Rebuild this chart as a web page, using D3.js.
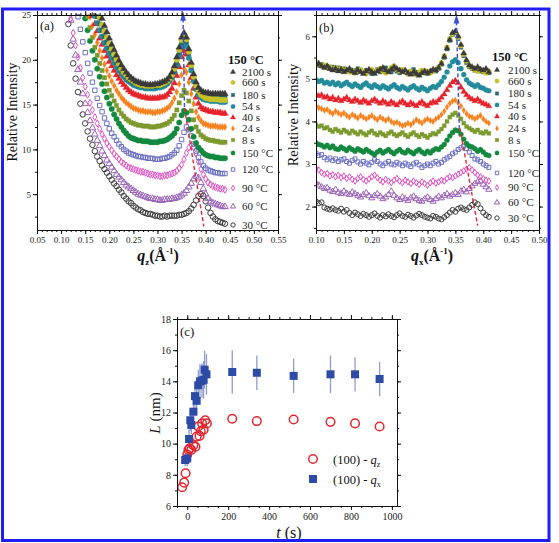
<!DOCTYPE html>
<html>
<head>
  <meta charset="utf-8">
  <style>
    body { margin: 0; background: #fff; }
    svg { display: block; font-family: "Liberation Serif", "Times New Roman", serif; }
  </style>
</head>
<body>
<div id="fig"></div>
<script src="https://d3js.org/d3.v7.min.js"></script>
<script>
// ---------- data: legend order, top to bottom ----------
var seriesLabels = ['2100 s', '660 s', '180 s', '54 s', '40 s', '24 s', '8 s', '150 °C', '120 °C', '90 °C', '60 °C', '30 °C'];

// panel (a): q_z grid and relative intensity
var qA = [0.110,0.115,0.120,0.125,0.130,0.135,0.140,0.145,0.150,0.155,
  0.160,0.165,0.170,0.175,0.180,0.185,0.190,0.195,0.200,0.205,
  0.210,0.215,0.220,0.225,0.230,0.235,0.240,0.245,0.250,0.255,
  0.260,0.265,0.270,0.275,0.280,0.285,0.290,0.295,0.300,0.305,
  0.310,0.315,0.320,0.325,0.330,0.335,0.340,0.345,0.350,0.355,
  0.360,0.365,0.370,0.375,0.380,0.385,0.390,0.395,0.400,0.405,
  0.410,0.415,0.420,0.425,0.430,0.435,0.440];

var a2100 = [null,null,null,null,null,null,null,null,null,null,
  null,null,null,null,null,24.6,23.8,23.1,22.4,21.7,
  21.1,20.5,19.9,19.4,19.0,18.6,18.3,18.0,17.8,17.6,
  17.5,17.4,17.3,17.3,17.2,17.2,17.2,17.3,17.3,17.4,
  17.5,17.6,17.8,18.1,18.6,19.3,20.3,21.4,22.5,23.0,
  22.5,21.2,19.7,18.4,17.5,16.9,16.6,16.4,16.3,16.3,
  16.2,16.2,16.2,16.2,16.2,16.2,16.2];
var a660 = [null,null,null,null,null,null,null,null,null,null,
  null,null,null,null,24.7,23.9,23.2,22.5,21.8,21.2,
  20.6,20.0,19.5,19.0,18.6,18.3,18.0,17.8,17.6,17.4,
  17.3,17.2,17.2,17.1,17.1,17.1,17.1,17.2,17.2,17.2,
  17.3,17.4,17.6,17.9,18.3,19.0,20.0,21.1,22.2,22.8,
  22.3,20.9,19.4,18.1,17.1,16.5,16.1,15.9,15.7,15.7,
  15.6,15.6,15.6,15.6,15.5,15.5,15.5];
var a180 = [null,null,null,null,null,null,null,null,null,null,
  null,null,null,24.8,24.0,23.3,22.6,22.0,21.4,20.8,
  20.2,19.7,19.2,18.8,18.4,18.1,17.8,17.6,17.4,17.3,
  17.2,17.1,17.1,17.0,17.0,17.0,17.0,17.0,17.1,17.1,
  17.2,17.3,17.5,17.8,18.2,18.8,19.7,20.8,21.9,22.5,
  22.0,20.7,19.2,18.0,17.0,16.4,16.1,15.9,15.8,15.8,
  15.8,15.8,15.7,15.8,15.7,15.7,15.8];
var a54 = [null,null,null,null,null,null,null,null,null,null,
  null,null,24.9,24.1,23.3,22.6,21.9,21.3,20.7,20.2,
  19.7,19.2,18.8,18.4,18.1,17.8,17.6,17.4,17.2,17.1,
  17.0,16.9,16.9,16.8,16.8,16.8,16.8,16.8,16.9,16.9,
  17.0,17.1,17.3,17.6,18.0,18.6,19.4,20.4,21.4,22.0,
  21.5,20.2,18.8,17.6,16.7,16.1,15.8,15.6,15.5,15.5,
  15.4,15.4,15.4,15.4,15.3,15.3,15.3];
var a40 = [null,null,null,null,null,null,null,null,null,null,
  null,24.9,24.0,23.2,22.4,21.7,21.0,20.4,19.8,19.3,
  18.8,18.3,17.9,17.5,17.2,16.9,16.6,16.4,16.2,16.1,
  16.0,15.9,15.8,15.8,15.7,15.7,15.7,15.7,15.7,15.8,
  15.8,15.9,16.1,16.4,16.8,17.4,18.2,19.2,20.3,21.0,
  20.6,19.4,18.0,16.8,15.8,15.1,14.7,14.5,14.4,14.3,
  14.2,14.2,14.1,14.1,14.1,14.0,14.0];
var a24 = [null,null,null,null,null,null,null,null,null,null,
  24.8,23.8,22.8,21.9,21.0,20.2,19.5,18.8,18.2,17.6,
  17.1,16.6,16.2,15.8,15.5,15.2,15.0,14.8,14.6,14.5,
  14.4,14.3,14.3,14.2,14.2,14.2,14.1,14.1,14.2,14.2,
  14.3,14.4,14.6,14.8,15.2,15.7,16.4,17.3,18.3,19.0,
  18.6,17.5,16.2,15.1,14.2,13.6,13.2,12.9,12.8,12.7,
  12.6,12.6,12.6,12.5,12.5,12.5,12.5];
var a8 = [null,null,null,null,null,null,null,null,null,24.8,
  23.6,22.5,21.4,20.5,19.6,18.8,18.0,17.3,16.6,16.0,
  15.4,14.9,14.4,14.0,13.7,13.4,13.2,13.0,12.9,12.8,
  12.7,12.7,12.6,12.6,12.6,12.5,12.5,12.5,12.6,12.6,
  12.7,12.8,12.9,13.1,13.4,13.8,14.4,15.2,16.0,16.6,
  16.3,15.4,14.3,13.3,12.5,12.0,11.6,11.4,11.2,11.1,
  11.0,11.0,10.9,10.9,10.8,10.8,10.8];
var a150 = [null,null,null,null,null,null,null,null,24.6,23.3,
  22.1,21.0,20.0,19.0,18.1,17.3,16.5,15.8,15.1,14.5,
  13.9,13.4,12.9,12.5,12.1,11.8,11.5,11.3,11.2,11.1,
  11.0,11.0,10.9,10.9,10.9,10.8,10.8,10.8,10.8,10.9,
  10.9,11.0,11.1,11.3,11.5,11.8,12.3,13.0,13.8,14.3,
  14.1,13.3,12.3,11.4,10.7,10.2,9.9,9.6,9.4,9.3,
  9.2,9.2,9.1,9.1,9.0,9.0,9.0];
var a120 = [null,null,null,null,null,24.8,23.4,22.0,20.8,19.6,
  18.5,17.5,16.6,15.7,14.9,14.2,13.5,12.9,12.3,11.8,
  11.4,11.0,10.6,10.3,10.0,9.8,9.6,9.5,9.4,9.3,
  9.2,9.2,9.1,9.1,9.0,9.0,9.0,8.9,8.9,8.9,
  9.0,9.0,9.1,9.2,9.4,9.6,9.9,10.4,11.1,11.9,
  12.5,12.2,11.5,10.6,9.8,9.1,8.6,8.2,7.9,7.7,
  7.6,7.5,7.4,7.4,7.3,7.3,7.3];
var a90 = [null,null,24.6,23.0,21.6,20.3,19.1,18.0,17.0,16.1,
  15.2,14.4,13.6,12.9,12.3,11.7,11.2,10.7,10.3,9.9,
  9.5,9.2,8.9,8.6,8.4,8.2,8.0,7.9,7.8,7.7,
  7.6,7.5,7.5,7.4,7.3,7.2,7.2,7.1,7.1,7.0,
  7.0,7.1,7.1,7.2,7.3,7.4,7.6,7.9,8.3,8.9,
  9.6,10.2,10.5,10.2,9.5,8.6,7.8,7.2,6.7,6.3,
  6.1,5.9,5.8,5.7,5.6,5.6,5.5];
var a60 = [null,null,24.4,22.3,20.5,18.9,17.5,16.2,15.1,14.1,
  13.2,12.4,11.7,11.0,10.4,9.8,9.3,8.8,8.4,8.0,
  7.6,7.2,6.9,6.6,6.3,6.0,5.8,5.6,5.4,5.2,
  5.0,4.9,4.8,4.7,4.6,4.5,4.5,4.4,4.4,4.3,
  4.3,4.4,4.4,4.4,4.5,4.5,4.6,4.7,4.9,5.1,
  5.4,5.8,6.2,6.7,7.0,6.8,6.3,5.6,5.0,4.5,
  4.2,4.0,3.9,3.8,3.7,3.6,3.6];
var a30 = [null,24.0,21.6,19.6,17.9,16.4,15.1,13.9,12.9,12.0,
  11.2,10.5,9.8,9.2,8.7,8.2,7.8,7.4,7.0,6.6,
  6.2,5.9,5.5,5.2,4.8,4.5,4.2,4.0,3.7,3.5,
  3.3,3.2,3.0,2.9,2.8,2.8,2.7,2.6,2.6,2.5,
  2.5,2.6,2.5,2.6,2.6,2.6,2.6,2.7,2.7,2.8,
  2.9,3.1,3.4,3.8,4.3,4.8,5.0,4.8,4.2,3.5,
  2.9,2.5,2.2,2.0,1.9,1.8,1.7];

// panel (b): q_x grid and relative intensity
var qB = [0.100,0.105,0.110,0.115,0.120,0.125,0.130,0.135,0.140,0.145,
  0.150,0.155,0.160,0.165,0.170,0.175,0.180,0.185,0.190,0.195,
  0.200,0.205,0.210,0.215,0.220,0.225,0.230,0.235,0.240,0.245,
  0.250,0.255,0.260,0.265,0.270,0.275,0.280,0.285,0.290,0.295,
  0.300,0.305,0.310,0.315,0.320,0.325,0.330,0.335,0.340,0.345,
  0.350,0.355,0.360,0.365,0.370,0.375,0.380,0.385,0.390,0.395,
  0.400,0.405,0.410];

var b2100 = [5.34,5.36,5.30,5.26,5.30,5.24,5.20,5.24,5.18,5.22,
  5.16,5.20,5.24,5.18,5.14,5.20,5.16,5.12,5.18,5.22,
  5.16,5.12,5.18,5.22,5.26,5.20,5.16,5.22,5.28,5.24,
  5.20,5.16,5.20,5.14,5.10,5.16,5.12,5.08,5.14,5.18,
  5.14,5.18,5.22,5.20,5.26,5.36,5.52,5.72,5.92,6.08,
  6.12,6.00,5.80,5.60,5.44,5.32,5.28,5.24,5.28,5.22,
  5.20,5.24,5.16];
var b660 = [5.40,5.34,5.30,5.32,5.26,5.28,5.22,5.26,5.20,5.24,
  5.18,5.22,5.16,5.20,5.14,5.18,5.22,5.16,5.12,5.18,
  5.22,5.16,5.20,5.24,5.18,5.14,5.20,5.26,5.30,5.22,
  5.18,5.22,5.16,5.12,5.18,5.14,5.10,5.16,5.20,5.14,
  5.18,5.14,5.18,5.22,5.28,5.38,5.54,5.74,5.94,6.06,
  6.10,5.98,5.78,5.58,5.42,5.30,5.26,5.22,5.18,5.22,
  5.18,5.14,5.18];
var b180 = [5.36,5.32,5.34,5.28,5.30,5.24,5.28,5.22,5.26,5.20,
  5.24,5.18,5.22,5.16,5.20,5.24,5.18,5.14,5.20,5.16,
  5.12,5.18,5.22,5.16,5.20,5.26,5.20,5.16,5.22,5.18,
  5.14,5.20,5.16,5.12,5.18,5.22,5.16,5.10,5.14,5.18,
  5.12,5.16,5.20,5.18,5.24,5.34,5.50,5.70,5.90,6.04,
  6.08,5.94,5.74,5.54,5.38,5.28,5.24,5.20,5.24,5.18,
  5.16,5.20,5.14];
var b54 = [4.98,4.94,4.96,4.90,4.92,4.88,4.92,4.86,4.90,4.84,
  4.88,4.92,4.86,4.82,4.88,4.84,4.80,4.86,4.90,4.84,
  4.80,4.86,4.82,4.78,4.84,4.80,4.76,4.82,4.86,4.80,
  4.76,4.82,4.78,4.74,4.80,4.84,4.78,4.74,4.80,4.76,
  4.72,4.78,4.82,4.80,4.86,4.94,5.04,5.16,5.30,5.40,
  5.45,5.38,5.24,5.10,4.98,4.90,4.86,4.82,4.86,4.80,
  4.78,4.74,4.72];
var b40 = [4.64,4.60,4.62,4.56,4.58,4.52,4.56,4.50,4.54,4.48,
  4.52,4.56,4.50,4.46,4.52,4.48,4.44,4.50,4.46,4.42,
  4.48,4.52,4.46,4.42,4.48,4.44,4.40,4.46,4.42,4.38,
  4.44,4.48,4.42,4.38,4.44,4.40,4.36,4.42,4.46,4.40,
  4.36,4.42,4.46,4.44,4.50,4.56,4.64,4.74,4.84,4.92,
  4.96,4.90,4.80,4.70,4.62,4.56,4.52,4.48,4.52,4.46,
  4.42,4.40,4.36];
var b24 = [4.36,4.32,4.30,4.26,4.28,4.22,4.18,4.24,4.20,4.16,
  4.20,4.14,4.10,4.16,4.12,4.08,4.14,4.10,4.06,4.10,
  4.14,4.08,4.04,4.10,4.06,4.02,4.06,4.00,3.96,3.98,
  3.94,3.90,3.92,3.96,3.92,3.98,4.04,4.00,3.96,4.02,
  4.06,4.02,4.00,4.06,4.10,4.16,4.24,4.34,4.42,4.48,
  4.50,4.44,4.36,4.26,4.18,4.12,4.10,4.06,4.10,4.14,
  4.06,4.00,3.96];
var b8 = [3.92,3.88,3.90,3.84,3.86,3.80,3.76,3.82,3.78,3.74,
  3.80,3.76,3.72,3.78,3.74,3.70,3.76,3.72,3.68,3.74,
  3.78,3.72,3.68,3.74,3.70,3.66,3.72,3.76,3.70,3.66,
  3.70,3.74,3.68,3.64,3.70,3.74,3.68,3.64,3.70,3.66,
  3.62,3.68,3.72,3.70,3.76,3.82,3.90,4.00,4.10,4.16,
  4.20,4.14,4.06,3.96,3.88,3.84,3.80,3.76,3.80,3.74,
  3.72,3.76,3.72];
var b150 = [3.50,3.46,3.44,3.40,3.44,3.38,3.42,3.36,3.34,3.40,
  3.36,3.32,3.38,3.34,3.30,3.36,3.32,3.28,3.34,3.30,
  3.26,3.22,3.28,3.32,3.26,3.30,3.34,3.28,3.24,3.30,
  3.34,3.28,3.26,3.32,3.28,3.24,3.30,3.34,3.28,3.24,
  3.30,3.26,3.32,3.36,3.34,3.40,3.46,3.56,3.66,3.74,
  3.80,3.78,3.70,3.58,3.48,3.42,3.40,3.36,3.30,3.34,
  3.28,3.22,3.20];
var b120 = [3.25,3.20,3.22,3.15,3.10,3.14,3.08,3.12,3.06,3.10,
  3.12,3.06,3.02,3.08,3.12,3.05,3.00,3.06,3.02,2.98,
  3.04,3.10,3.06,3.00,2.96,3.02,3.06,3.00,2.98,3.04,
  3.00,2.96,3.02,2.98,2.94,3.00,3.04,2.98,2.92,2.96,
  3.00,2.96,3.02,3.06,3.00,3.04,3.10,3.14,3.18,3.24,
  3.28,3.34,3.38,3.42,3.36,3.28,3.20,3.12,3.10,3.06,
  3.00,2.96,2.92];
var b90 = [2.90,2.86,2.80,2.76,2.78,2.72,2.75,2.70,2.74,2.68,
  2.72,2.66,2.70,2.64,2.60,2.66,2.70,2.64,2.60,2.65,
  2.70,2.74,2.68,2.62,2.58,2.64,2.60,2.56,2.62,2.66,
  2.60,2.56,2.62,2.58,2.54,2.60,2.56,2.52,2.58,2.54,
  2.50,2.56,2.60,2.55,2.58,2.62,2.60,2.66,2.70,2.68,
  2.72,2.76,2.80,2.84,2.88,2.92,2.86,2.80,2.74,2.70,
  2.66,2.62,2.60];
var b60 = [2.55,2.50,2.46,2.42,2.44,2.38,2.35,2.40,2.33,2.30,
  2.36,2.31,2.28,2.34,2.30,2.26,2.22,2.28,2.32,2.25,
  2.20,2.26,2.30,2.24,2.18,2.22,2.28,2.36,2.26,2.20,
  2.16,2.22,2.18,2.14,2.20,2.24,2.18,2.14,2.12,2.18,
  2.22,2.16,2.12,2.18,2.24,2.20,2.26,2.30,2.24,2.28,
  2.32,2.28,2.36,2.40,2.34,2.42,2.48,2.54,2.58,2.60,
  2.52,2.46,2.40];
var b30 = [2.12,2.08,2.10,1.98,1.95,1.93,1.96,1.92,1.90,1.95,
  1.88,1.92,1.85,1.80,1.86,1.82,1.78,1.83,1.80,1.76,
  1.80,1.84,1.78,1.74,1.80,1.77,1.82,1.78,1.75,1.80,
  1.84,1.78,1.76,1.81,1.78,1.74,1.79,1.83,1.80,1.76,
  1.74,1.72,1.78,1.76,1.72,1.70,1.75,1.80,1.86,1.92,
  1.88,1.95,1.98,1.94,1.92,1.98,2.04,2.10,2.06,1.96,
  1.86,1.80,1.76];

// panel (c): domain size L versus time
var tZ = [-25, -15, -8, 0, 6, 12, 20, 30, 40, 46, 54, 60, 66, 73, 80, 88, 96, 220, 340, 520, 700, 820, 940];
var LZ = [7.2, 7.5, 8.1, 9.3, 9.6, 9.7, 9.6, 9.9, 9.8, 10.45, 11.1, 10.5, 10.8, 11.3, 10.9, 11.5, 11.3, 11.6, 11.45, 11.55, 11.4, 11.3, 11.1];
var tX = [-10, 0, 9, 15, 20, 30, 38, 46, 54, 62, 72, 80, 85, 94, 220, 340, 520, 700, 820, 940];
var LX = [8.95, 9.05, 10.3, 11.5, 11.2, 12.05, 13.05, 12.75, 13.75, 14.0, 14.05, 14.1, 14.75, 14.45, 14.6, 14.55, 14.35, 14.45, 14.45, 14.15];
var errLX = [0.4, 0.5, 0.6, 0.7, 0.6, 0.8, 0.9, 0.9, 1.0, 1.1, 1.1, 1.2, 1.2, 1.3, 1.4, 1.1, 1.1, 1.2, 1.1, 1.1];

// dashed guide lines (blue: arrow up, red: peak shift)
var guideA = {blue: [[0.353, 24.6], [0.356, 14.6]], red: [[0.356, 14.6], [0.396, 1.4]]};
var guideB = {blue: [[0.352, 6.35], [0.357, 3.85]], red: [[0.358, 3.85], [0.390, 1.55]]};

// ---------- styles ----------
var colors = ['#3a3a3a', '#c8c22a', '#2d6a6e', '#238c9c', '#e6232b', '#f5821f', '#7d9a2e', '#13893f', '#6b6fc4', '#e055c4', '#9a62b8', '#3c3c3c'];
var shapes = ['tri', 'cir', 'sq', 'cir', 'tri', 'dia', 'sq', 'cir', 'sq', 'dia', 'tri', 'cir'];
var isOpen = [false, false, false, false, false, false, false, false, true, true, true, true];
var symType = {tri: d3.symbolTriangle, cir: d3.symbolCircle, sq: d3.symbolSquare, dia: d3.symbolDiamond};
var symScale = {tri: 0.8, cir: 1, sq: 0.8, dia: 0.6};
var drawOrder = [11, 10, 9, 8, 7, 6, 5, 4, 3, 2, 1, 0];

var aVals = [a2100, a660, a180, a54, a40, a24, a8, a150, a120, a90, a60, a30];
var bVals = [b2100, b660, b180, b54, b40, b24, b8, b150, b120, b90, b60, b30];

var W = 559, H = 543;
var svg = d3.select('#fig').append('svg').attr('width', W).attr('height', H);
svg.append('rect').attr('width', W).attr('height', H).attr('fill', '#fff');

function makePanel(id, box, xDom, yDom) {
  var x = d3.scaleLinear().domain(xDom).range([box.l, box.r]);
  var y = d3.scaleLinear().domain(yDom).range([box.b, box.t]);
  svg.append('clipPath').attr('id', id)
    .append('rect').attr('x', box.l).attr('y', box.t - 3).attr('width', box.r - box.l).attr('height', box.b - box.t + 3);
  return {x: x, y: y, box: box, id: id};
}

function styleAxis(g, fs) {
  g.selectAll('path, line').attr('stroke', '#111').attr('stroke-width', 1);
  g.selectAll('text').attr('font-family', '"Liberation Serif", "Times New Roman", serif').attr('font-size', fs).attr('fill', '#222');
}

function drawAxes(p, o) {
  var b = p.box;
  var g = svg.append('g');
  var ax;
  ax = g.append('g').attr('transform', 'translate(0,' + b.b + ')')
    .call(d3.axisBottom(p.x).tickValues(o.xMinor).tickFormat('').tickSize(2).tickSizeOuter(0));
  styleAxis(ax, o.fs);
  ax = g.append('g').attr('transform', 'translate(0,' + b.b + ')')
    .call(d3.axisBottom(p.x).tickValues(o.xMajor).tickFormat(o.xFmt).tickSize(4).tickSizeOuter(0).tickPadding(3));
  styleAxis(ax, o.fs);
  ax = g.append('g').attr('transform', 'translate(0,' + b.t + ')')
    .call(d3.axisTop(p.x).tickValues(o.xMinor).tickFormat('').tickSize(2).tickSizeOuter(0));
  styleAxis(ax, o.fs);
  ax = g.append('g').attr('transform', 'translate(0,' + b.t + ')')
    .call(d3.axisTop(p.x).tickValues(o.xMajor).tickFormat('').tickSize(4).tickSizeOuter(0));
  styleAxis(ax, o.fs);
  ax = g.append('g').attr('transform', 'translate(' + b.l + ',0)')
    .call(d3.axisLeft(p.y).tickValues(o.yMinor).tickFormat('').tickSize(2).tickSizeOuter(0));
  styleAxis(ax, o.fs);
  ax = g.append('g').attr('transform', 'translate(' + b.l + ',0)')
    .call(d3.axisLeft(p.y).tickValues(o.yMajor).tickFormat(o.yFmt).tickSize(4).tickSizeOuter(0).tickPadding(2));
  styleAxis(ax, o.fs);
  ax = g.append('g').attr('transform', 'translate(' + b.r + ',0)')
    .call(d3.axisRight(p.y).tickValues(o.yMinor).tickFormat('').tickSize(2).tickSizeOuter(0));
  styleAxis(ax, o.fs);
  ax = g.append('g').attr('transform', 'translate(' + b.r + ',0)')
    .call(d3.axisRight(p.y).tickValues(o.yMajor).tickFormat('').tickSize(4).tickSizeOuter(0));
  styleAxis(ax, o.fs);
}

function marker(sel, k, size) {
  sel.attr('d', d3.symbol().type(symType[shapes[k]]).size(size * symScale[shapes[k]]))
    .attr('fill', isOpen[k] ? 'none' : colors[k])
    .attr('stroke', colors[k])
    .attr('stroke-width', isOpen[k] ? 1 : 0.3);
}

function drawSeries(p, qs, vals, size) {
  var g = svg.append('g').attr('clip-path', 'url(#' + p.id + ')');
  drawOrder.forEach(function (k) {
    var pts = qs.map(function (q, i) { return [q, vals[k][i]]; })
      .filter(function (d) { return d[1] !== null; });
    g.append('g').selectAll('path').data(pts).enter().append('path')
      .attr('transform', function (d) { return 'translate(' + p.x(d[0]) + ',' + p.y(d[1]) + ')'; })
      .call(marker, k, size);
  });
}

function drawGuides(p, gd, arrowSize) {
  var line = d3.line().x(function (d) { return p.x(d[0]); }).y(function (d) { return p.y(d[1]); });
  svg.append('path').attr('d', line(gd.blue)).attr('fill', 'none')
    .attr('stroke', '#3b4fd8').attr('stroke-width', 1.4).attr('stroke-dasharray', '4,2.5');
  svg.append('path').attr('d', line(gd.red)).attr('fill', 'none')
    .attr('stroke', '#e8283a').attr('stroke-width', 1.4).attr('stroke-dasharray', '4,2.5');
  svg.append('path')
    .attr('d', d3.symbol().type(d3.symbolTriangle).size(arrowSize))
    .attr('transform', 'translate(' + p.x(gd.blue[0][0]) + ',' + (p.y(gd.blue[0][1]) - 1) + ') scale(0.8,1.5)')
    .attr('fill', '#3b4fd8');
}

function drawLegend(x0, xt, ys, titleY, titleX) {
  svg.append('text').attr('x', titleX).attr('y', titleY).attr('font-size', 12.5)
    .attr('font-weight', 'bold').attr('fill', '#111').text('150 °C');
  seriesLabels.forEach(function (lab, k) {
    svg.append('path').attr('transform', 'translate(' + x0 + ',' + ys[k] + ')').call(marker, k, 15);
    svg.append('text').attr('x', xt).attr('y', ys[k] + 3.8).attr('font-size', 11)
      .attr('fill', '#222').text(lab);
  });
}

function qLabel(x, y, sub) {
  var t = svg.append('text').attr('x', x).attr('y', y).attr('text-anchor', 'middle')
    .attr('font-size', 16).attr('font-weight', 'bold').attr('fill', '#111');
  t.append('tspan').attr('font-style', 'italic').text('q');
  t.append('tspan').attr('font-size', 9).attr('dy', 4).text(sub);
  t.append('tspan').attr('dy', -4).text('(Å');
  t.append('tspan').attr('font-size', 9).attr('dy', -7).text('-1');
  t.append('tspan').attr('dy', 7).text(')');
}

function yLabel(x, y, txt, fs) {
  svg.append('text').attr('transform', 'translate(' + x + ',' + y + ') rotate(-90)')
    .attr('text-anchor', 'middle').attr('font-size', fs).attr('fill', '#111').text(txt);
}

// ---------- panel (a) ----------
var pa = makePanel('clipA', {l: 37, r: 278, t: 15, b: 230}, [0.05, 0.55], [1, 25]);
drawSeries(pa, qA, aVals, 24);
drawGuides(pa, guideA, 22);
drawAxes(pa, {
  xMajor: d3.range(0.05, 0.551, 0.05), xMinor: d3.range(0.05, 0.551, 0.01),
  yMajor: [5, 10, 15, 20, 25], yMinor: d3.range(2.5, 25.1, 2.5),
  xFmt: d3.format('.2f'), yFmt: d3.format('d'), fs: 9
});
svg.append('text').attr('x', 40).attr('y', 30).attr('font-size', 12.5).attr('fill', '#111').text('(a)');
yLabel(17, 112, 'Relative Intensity', 14);
qLabel(158, 261, 'z');
drawLegend(233, 242, [72, 82.5, 95, 106.5, 117.5, 128.5, 140, 153, 169.5, 188, 206.5, 225], 64, 228);

// ---------- panel (b) ----------
var pb = makePanel('clipB', {l: 316, r: 539, t: 15, b: 230}, [0.10, 0.50], [1.45, 6.5]);
drawSeries(pb, qB, bVals, 20);
drawGuides(pb, guideB, 22);
drawAxes(pb, {
  xMajor: d3.range(0.10, 0.501, 0.05), xMinor: d3.range(0.10, 0.501, 0.01),
  yMajor: [2, 3, 4, 5, 6], yMinor: d3.range(1.5, 6.51, 0.5),
  xFmt: d3.format('.2f'), yFmt: d3.format('d'), fs: 9
});
svg.append('text').attr('x', 319).attr('y', 32).attr('font-size', 12.5).attr('fill', '#111').text('(b)');
yLabel(298, 115, 'Relative Intensity', 14.5);
qLabel(432, 261, 'x');
drawLegend(497, 508, [70, 81, 93.5, 105, 116.5, 128.5, 140, 153, 173, 187.5, 202.5, 218], 61, 492);

// ---------- panel (c) ----------
var pc = makePanel('clipC', {l: 177, r: 397, t: 319, b: 506}, [-50, 1025], [6, 18]);
var gc = svg.append('g');
// error bars for q_x
gc.selectAll('line.err').data(tX).enter().append('line')
  .attr('x1', function (d) { return pc.x(d); }).attr('x2', function (d) { return pc.x(d); })
  .attr('y1', function (d, i) { return pc.y(LX[i] - errLX[i]); })
  .attr('y2', function (d, i) { return pc.y(LX[i] + errLX[i]); })
  .attr('stroke', '#7d8cc6').attr('stroke-width', 1.3).attr('opacity', 0.85);
gc.selectAll('circle.qz').data(tZ).enter().append('circle')
  .attr('cx', function (d) { return pc.x(d); })
  .attr('cy', function (d, i) { return pc.y(LZ[i]); })
  .attr('r', 4.3).attr('fill', 'none').attr('stroke', '#e3262e').attr('stroke-width', 1.5);
gc.selectAll('rect.qx').data(tX).enter().append('rect')
  .attr('x', function (d) { return pc.x(d) - 4; })
  .attr('y', function (d, i) { return pc.y(LX[i]) - 4; })
  .attr('width', 8).attr('height', 8).attr('fill', '#2d4aa6');
drawAxes(pc, {
  xMajor: [0, 200, 400, 600, 800, 1000], xMinor: d3.range(-50, 1025, 50),
  yMajor: [6, 8, 10, 12, 14, 16, 18], yMinor: d3.range(6, 18.1, 1),
  xFmt: d3.format('d'), yFmt: d3.format('d'), fs: 10
});
svg.append('text').attr('x', 180).attr('y', 336).attr('font-size', 13).attr('fill', '#111').text('(c)');
var ly = svg.append('text').attr('transform', 'translate(160,413) rotate(-90)')
  .attr('text-anchor', 'middle').attr('font-size', 15).attr('fill', '#111');
ly.append('tspan').attr('font-style', 'italic').text('L');
ly.append('tspan').text(' (nm)');
var lx = svg.append('text').attr('x', 289).attr('y', 538).attr('text-anchor', 'middle')
  .attr('font-size', 16).attr('fill', '#111');
lx.append('tspan').attr('font-style', 'italic').text('t');
lx.append('tspan').text(' (s)');
// legend (c)
svg.append('circle').attr('cx', 313).attr('cy', 459).attr('r', 4.3)
  .attr('fill', 'none').attr('stroke', '#e3262e').attr('stroke-width', 1.5);
svg.append('rect').attr('x', 309).attr('y', 475).attr('width', 8).attr('height', 8).attr('fill', '#2d4aa6');
[['z', 463.5], ['x', 483.5]].forEach(function (d) {
  var t = svg.append('text').attr('x', 333).attr('y', d[1]).attr('font-size', 12.5).attr('fill', '#111');
  t.append('tspan').text('(100) - ');
  t.append('tspan').attr('font-style', 'italic').text('q');
  t.append('tspan').attr('font-size', 8).attr('dy', 3).text(d[0]);
});

// blue frame
svg.append('rect').attr('x', 2.5).attr('y', 9).attr('width', 546.5).attr('height', 531.5)
  .attr('fill', 'none').attr('stroke', '#1f1ff5').attr('stroke-width', 3);
</script>
</body>
</html>
